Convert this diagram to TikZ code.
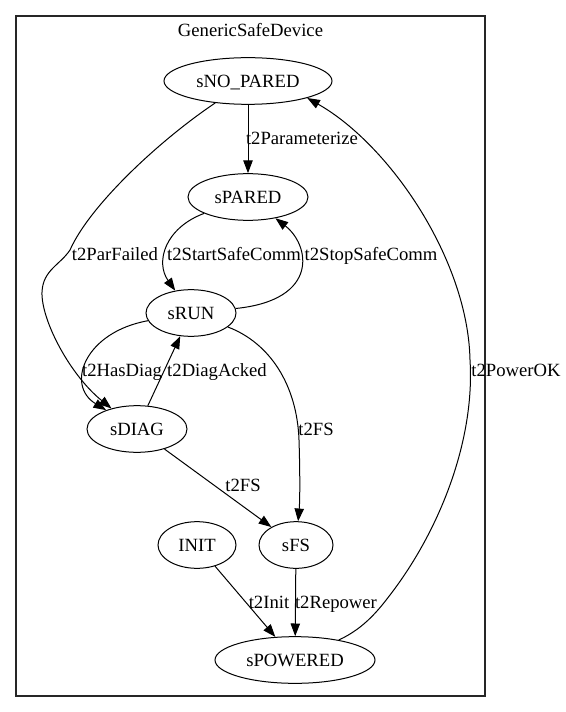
\documentclass[tikz,border=0pt]{standalone}
\usepackage{fontspec}
\setmainfont{Liberation Serif}
\usetikzlibrary{shapes.geometric,arrows.meta}
\tikzset{
  statenode/.style={draw, ellipse, line width=0.75pt, inner sep=0pt, minimum height=35pt, text height=9.5pt, text depth=0pt},
  lbl/.style={inner sep=0pt, text height=9.5pt, text depth=0pt},
  trans/.style={line width=0.75pt, -{Triangle[length=9.5pt,width=7pt]}}
}
\begin{document}
\begin{tikzpicture}[x=0.75pt, y=-0.75pt, font=\fontsize{14}{16}\selectfont]
            \useasboundingbox (0,0) rectangle (565,712);
            \draw[line width=1pt, black!85] (16,16) rectangle (485,696);
            \node[lbl] (title) at (250.5,30) {GenericSafeDevice};
            \node[statenode, minimum width=126pt] (sNOPARED) at (248,81) {sNO\_PARED};
            \node[statenode, minimum width=90pt] (sPARED) at (248,197) {sPARED};
            \node[statenode, minimum width=67.5pt] (sRUN) at (191,313) {sRUN};
            \node[statenode, minimum width=75pt] (sDIAG) at (137,429) {sDIAG};
            \node[statenode, minimum width=58.5pt] (INIT) at (197,545) {INIT};
            \node[statenode, minimum width=55.5pt] (sFS) at (296,545) {sFS};
            \node[statenode, minimum width=120pt] (sPOWERED) at (295,660) {sPOWERED};
            \draw[trans] (sNOPARED) -- (sPARED);
            \draw[trans] (sNOPARED) .. controls (160,140) and (90,205) .. (70,250)
            .. controls (60,265) and (43,270) .. (42,292)
            .. controls (41,320) and (70,375) .. (sDIAG);
            \draw[trans] (sPARED) .. controls (165,228) and (155,262) .. (sRUN);
            \draw[trans] (sRUN) .. controls (320,300) and (310,245) .. (sPARED);
            \draw[trans] (sRUN) .. controls (85,332) and (65,385) .. (sDIAG);
            \draw[trans] (sDIAG) -- (sRUN);
            \draw[trans] (sRUN) .. controls (270,343) and (297,385) .. (299,440)
            .. controls (300,470) and (300,500) .. (sFS);
            \draw[trans] (sDIAG) -- (sFS);
            \draw[trans] (INIT) -- (sPOWERED);
            \draw[trans] (sFS) -- (sPOWERED);
            \draw[trans] (sPOWERED) .. controls (365,628) and (380,608) .. (390,595)
            .. controls (440,530) and (475,440) .. (470,360)
            .. controls (468,260) and (390,145) .. (sNOPARED.-16);
            \foreach \n/\x/\y/\t in {a/302/138/t2Parameterize, b/115/254/t2ParFailed,
              c/234/254/t2StartSafeComm, d/371/254/t2StopSafeComm, e/122/370/t2HasDiag,
              f/217/370/t2DiagAcked, g/316/429/t2FS, h/243/485/t2FS, i/516/370/t2PowerOK,
              j/269/602/t2Init, k/336/602/t2Repower}
            \node[lbl] (l\n) at (\x,\y) {\t};
\end{tikzpicture}
\end{document}
